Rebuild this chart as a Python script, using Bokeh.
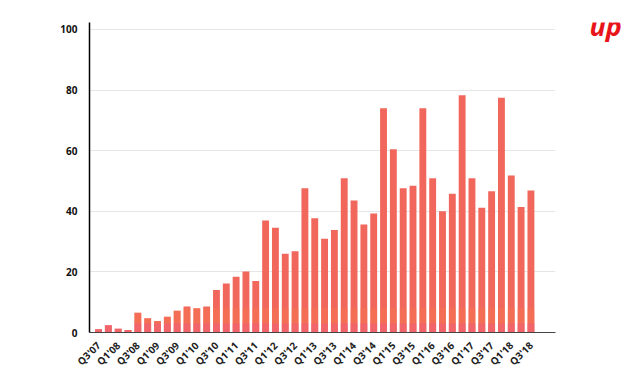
import numpy as np
from bokeh.plotting import figure
from bokeh.layouts import row
from bokeh.models import FixedTicker, Range1d, ColumnDataSource
from bokeh.core.properties import value
from bokeh.embed import file_html
from bokeh.resources import INLINE

quarters = ["Q3'07", "Q4'07", "Q1'08", "Q2'08", "Q3'08", "Q4'08", "Q1'09", "Q2'09", "Q3'09", "Q4'09",
            "Q1'10", "Q2'10", "Q3'10", "Q4'10", "Q1'11", "Q2'11", "Q3'11", "Q4'11", "Q1'12", "Q2'12",
            "Q3'12", "Q4'12", "Q1'13", "Q2'13", "Q3'13", "Q4'13", "Q1'14", "Q2'14", "Q3'14", "Q4'14",
            "Q1'15", "Q2'15", "Q3'15", "Q4'15", "Q1'16", "Q2'16", "Q3'16", "Q4'16", "Q1'17", "Q2'17",
            "Q3'17", "Q4'17", "Q1'18", "Q2'18", "Q3'18"]
values = [1.1, 2.4, 1.2, 0.8, 6.5, 4.7, 3.8, 5.2, 7.2, 8.6,
          8.0, 8.6, 14.0, 16.2, 18.4, 20.1, 17.0, 37.0, 34.6, 26.0,
          26.8, 47.6, 37.7, 30.9, 33.8, 50.9, 43.6, 35.6, 39.3, 74.0,
          60.5, 47.6, 48.4, 74.0, 50.9, 40.0, 45.8, 78.3, 50.9, 41.2,
          46.6, 77.5, 51.8, 41.4, 46.9]
y_ticks = [0, 20, 40, 60, 80, 100]
logo_text = ["up"]

x = list(range(len(quarters)))
orange_top = [min(v, 8.0) for v in values]
pink_top = [min(v, 3.0) for v in values]
src = ColumnDataSource(dict(x=x, v=values, o=orange_top, p=pink_top))

p = figure(width=570, height=376, output_backend="svg", toolbar_location=None,
           x_range=Range1d(-0.92, 46.5), y_range=Range1d(0, 102.3),
           min_border_left=89, min_border_right=15, min_border_top=22, min_border_bottom=44)
p.outline_line_color = None
p.background_fill_color = "white"

p.vbar(x="x", top="v", bottom=0, width=0.7, source=src, fill_color="#f2675c", line_color=None)
p.vbar(x="x", top="o", bottom=0, width=0.7, source=src, fill_color="#f47b4c", fill_alpha=0.4, line_color=None)
p.vbar(x="x", top="p", bottom=0, width=0.7, source=src, fill_color="#ee5a80", fill_alpha=0.5, line_color=None)

p.xgrid.grid_line_color = None
p.ygrid.grid_line_color = "#e6e6e6"
p.ygrid.ticker = FixedTicker(ticks=y_ticks)

p.yaxis.ticker = FixedTicker(ticks=y_ticks)
p.yaxis.axis_line_color = "black"
p.yaxis.axis_line_width = 1.5
p.yaxis.major_tick_line_color = None
p.yaxis.minor_tick_line_color = None
p.yaxis.major_label_text_font = "Open Sans"
p.yaxis.major_label_text_font_size = "10px"
p.yaxis.major_label_text_font_style = "bold"
p.yaxis.major_label_text_color = "#111111"
p.yaxis.major_label_standoff = 6

label_idx = x[::2]
p.xaxis.ticker = FixedTicker(ticks=label_idx)
p.xaxis.major_label_overrides = {i: quarters[i] for i in label_idx}
p.xaxis.major_label_orientation = 0.785
p.xaxis.axis_line_color = "#444444"
p.xaxis.axis_line_width = 1
p.xaxis.major_tick_line_color = None
p.xaxis.minor_tick_line_color = None
p.xaxis.major_label_text_font = "Open Sans"
p.xaxis.major_label_text_font_size = "10px"
p.xaxis.major_label_text_font_style = "bold"
p.xaxis.major_label_text_color = "#222222"
p.xaxis.major_label_standoff = 5

# logo panel
q = figure(width=54, height=376, output_backend="svg", toolbar_location=None,
           x_range=Range1d(0, 54), y_range=Range1d(0, 376),
           min_border_left=0, min_border_right=0, min_border_top=0, min_border_bottom=0)
q.axis.visible = False
q.grid.visible = False
q.outline_line_color = None
q.text(x=[19], y=[350], text=logo_text, text_font=value("Open Sans"), text_font_size="27px",
       text_font_style="bold italic", text_color="#e8141b", text_baseline="bottom")

layout = row(p, q)
open("out.html", "w").write(file_html(layout, INLINE))
